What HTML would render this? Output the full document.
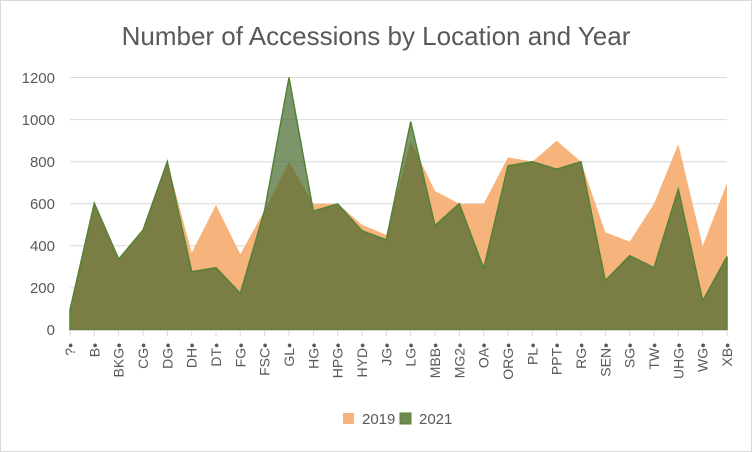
<!DOCTYPE html>
<html><head><meta charset="utf-8"><style>
body{margin:0;background:#fff}
svg{display:block;font-family:"Liberation Sans",sans-serif}
</style></head><body>
<svg width="752" height="452" viewBox="0 0 752 452">
<rect x="0.5" y="0.5" width="751" height="451" fill="#fff" stroke="#d9d9d9"/>
<text x="376" y="45" text-anchor="middle" font-size="26" fill="#595959">Number of Accessions by Location and Year</text>
<g stroke="#d9d9d9" stroke-width="1">
<line x1="70" x2="727" y1="77.5" y2="77.5"/>
<line x1="70" x2="727" y1="119.6" y2="119.6"/>
<line x1="70" x2="727" y1="161.7" y2="161.7"/>
<line x1="70" x2="727" y1="203.8" y2="203.8"/>
<line x1="70" x2="727" y1="245.8" y2="245.8"/>
<line x1="70" x2="727" y1="287.9" y2="287.9"/>
</g>
<g font-size="15" fill="#595959" text-anchor="end">
<text x="55" y="83">1200</text><text x="55" y="125">1000</text><text x="55" y="167">800</text>
<text x="55" y="209">600</text><text x="55" y="251">400</text><text x="55" y="293">200</text><text x="55" y="335">0</text>
</g>
<g id="plot"></g>
<line x1="70" x2="727" y1="330.5" y2="330.5" stroke="#d9d9d9"/>
<g id="ticks" stroke="#d9d9d9"></g>
<g id="labels" font-size="14" fill="#595959"></g>
<rect x="343" y="413" width="11" height="11" fill="#f7b37c"/>
<text x="362" y="424" font-size="15" fill="#595959">2019</text>
<rect x="400" y="413" width="11" height="11" fill="#6f8a4f" stroke="#548235"/>
<text x="419" y="424" font-size="15" fill="#595959">2021</text>
</svg>
<script>
var cats=["?","B","BKG","CG","DG","DH","DT","FG","FSC","GL","HG","HPG","HYD","JG","LG","MBB","MG2","OA","ORG","PL","PPT","RG","SEN","SG","TW","UHG","WG","XB"];
var a19=[100,600,340,475,800,367,594,360,570,800,600,600,500,452,898,661,600,600,821,800,899,800,465,420,600,884,399,697];
var a21=[95,602,337,475,800,277,296,174,570,1200,565,599,472,428,990,496,600,293,780,800,764,800,235,353,296,669,139,349];
function X(i){return 70+i*24.333}
function Y(v){return 330-v*0.21042}
function pts(a){var s="70,330 ";a.forEach(function(v,i){s+=X(i).toFixed(1)+","+Y(v).toFixed(1)+" "});return s+"727,330"}
var ns="http://www.w3.org/2000/svg",p=document.getElementById("plot");
var p1=document.createElementNS(ns,"polygon");p1.setAttribute("points",pts(a19));p1.setAttribute("fill","#f7b37c");p.appendChild(p1);
var p2=document.createElementNS(ns,"polygon");p2.setAttribute("points",pts(a21));p2.setAttribute("fill","rgb(69,104,44)");p2.setAttribute("fill-opacity","0.7");p2.setAttribute("stroke","#548235");p2.setAttribute("stroke-width","1.5");p.appendChild(p2);
var t=document.getElementById("ticks"),l=document.getElementById("labels");
cats.forEach(function(c,i){var x=X(i);
var ln=document.createElementNS(ns,"line");ln.setAttribute("x1",x);ln.setAttribute("x2",x);ln.setAttribute("y1",330);ln.setAttribute("y2",336);t.appendChild(ln);
var tx=document.createElementNS(ns,"text");tx.setAttribute("transform","translate("+(x+5)+",343) rotate(-90)");tx.setAttribute("text-anchor","end");tx.textContent=c+"•";l.appendChild(tx);});
</script>
</body></html>
